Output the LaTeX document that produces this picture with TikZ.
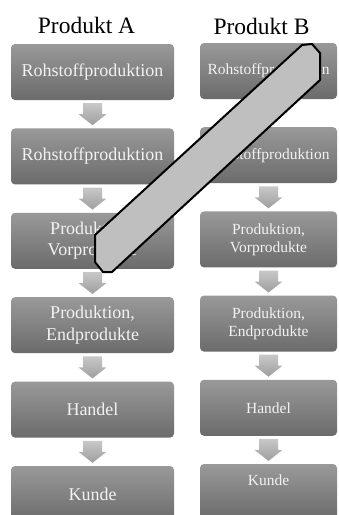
\documentclass[tikz,border=0pt]{standalone}
\usepackage{fontspec}
\setmainfont{Liberation Serif}
\usetikzlibrary{calc}
\definecolor{boxtop}{HTML}{999999}
\definecolor{boxbot}{HTML}{6B6B6B}
\definecolor{arrtop}{HTML}{C8C8C8}
\definecolor{arrbot}{HTML}{9E9E9E}
\definecolor{barfill}{HTML}{BFBFBF}
\definecolor{boxtext}{HTML}{F2F2F2}

\begin{document}
\begin{tikzpicture}[x=1pt,y=-1pt,
  stage/.style={rectangle,rounded corners=4pt,top color=boxtop,bottom color=boxbot,
    text=boxtext,align=center,inner sep=0pt,minimum height=56pt},
  stageA/.style={stage,minimum width=163pt,font=\fontsize{18}{21.6}\selectfont},
  stageB/.style={stage,minimum width=137pt,font=\fontsize{15.5}{18}\selectfont},
  flow/.style={top color=arrtop,bottom color=arrbot},
  title/.style={anchor=base,font=\fontsize{23.5}{28}\selectfont},
  slash/.style={fill=barfill,draw=black,line width=2pt,line join=round}]
\useasboundingbox (0,0) rectangle (338,515);

% Produkt A
\node[title] (titleA) at (86.5,33) {Produkt A};
\node[stageA] (a1) at (92.5,72) {Rohstoffproduktion};
\node[stageA] (a2) at (92.5,156.4) {Rohstoffproduktion};
\node[stageA] (a3) at (92.5,240.8) {Produktion,\\Vorprodukte};
\node[stageA] (a4) at (92.5,325.2) {Produktion,\\Endprodukte};
\node[stageA] (a5) at (92.5,409.6) {Handel};
\node[stageA] (a6) at (92.5,494) {Kunde};

% Produkt B
\node[title] (titleB) at (261.5,34) {Produkt B};
\node[stageB] (b1) at (268.5,71) {Rohstoffproduktion};
\node[stageB] (b2) at (268.5,155.2) {Rohstoffproduktion};
\node[stageB] (b3) at (268.5,239.4) {Produktion,\\Vorprodukte};
\node[stageB] (b4) at (268.5,323.6) {Produktion,\\Endprodukte};
\node[stageB] (b5) at (268.5,407.8) {Handel};
\node[stageB] (b6) at (268.5,492) {};
\node[text=boxtext,font=\fontsize{15.5}{18}\selectfont] (kundeB) at ($(b6)+(0,-12)$) {Kunde};

% Pfeile
\foreach \i/\j in {1/2,2/3,3/4,4/5,5/6}
{   \coordinate (ma\i) at ($(a\i.south)!0.5!(a\j.north)$);
    \coordinate (mb\i) at ($(b\i.south)!0.5!(b\j.north)$);
    \foreach \m in {ma\i,mb\i}
        \shade[flow,shift={(\m)}] (-9.5,-11) -- (9.5,-11) -- (9.5,0) -- (14,0)
          -- (0,11) -- (-14,0) -- (-9.5,0) -- cycle;
}

% Balken
\draw[slash] (95,235) -- (95,262) -- (103,272) -- (112,272) -- (320,80)
  -- (320,53) -- (312,44) -- (302,45) -- cycle;
\end{tikzpicture}
\end{document}
